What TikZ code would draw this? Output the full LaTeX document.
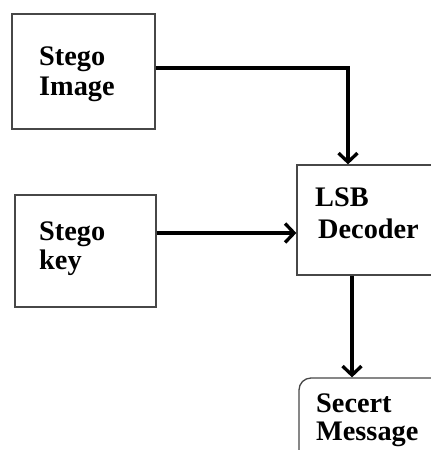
\documentclass[tikz,border=0pt]{standalone}
\usepackage{fontspec}
\setmainfont{Liberation Serif}
\usetikzlibrary{arrows.meta}
\tikzset{
  blockbox/.style={draw=black!72, line width=1.3pt, rectangle, inner sep=0pt},
  roundbox/.style={blockbox, rounded corners=12pt},
  lbl/.style={anchor=base west, inner sep=0pt, font=\fontsize{28.3}{30}\selectfont\bfseries},
  flow/.style={line width=3.3pt, -{Straight Barb[length=9pt,width=19pt]}},
}
\begin{document}
\begin{tikzpicture}[x=1pt,y=-1pt]
  \useasboundingbox (0,0) rectangle (431,450);
  \clip (0,0) rectangle (431,450);

  % blocks
  \node[blockbox, minimum width=143pt, minimum height=115pt] (img) at (83.5,71.5) {};
  \node[blockbox, minimum width=141pt, minimum height=112pt] (key) at (85.5,251) {};
  \node[blockbox, minimum width=148pt, minimum height=110pt] (dec) at (371,220) {};
  \node[roundbox, minimum width=171pt, minimum height=102pt] (msg) at (384.5,429) {};

  % labels
  \node[lbl] (imgA) at (39,65) {Stego};
  \node[lbl] (imgB) at (39,95) {Image};
  \node[lbl] (keyA) at (39,240) {Stego};
  \node[lbl] (keyB) at (39,269) {key};
  \node[lbl] (decA) at (315,206) {LSB};
  \node[lbl] (decB) at (318,238) {Decoder};
  \node[lbl] (msgA) at (316,412) {Secert};
  \node[lbl] (msgB) at (316,440) {Message};

  % connectors
  \coordinate (imgOut) at ([yshift=3.5pt]img.east);
  \coordinate (decIn) at ([xshift=-23pt]dec.north);
  \draw[flow, line join=miter] (imgOut) -| (decIn);
  \coordinate (keyOut) at ([yshift=18pt]key.east);
  \draw[flow] (keyOut) -- (keyOut -| dec.west);
  \coordinate (decOut) at ([xshift=-19pt]dec.south);
  \draw[flow] (decOut) -- (decOut |- msg.north);
\end{tikzpicture}
\end{document}
